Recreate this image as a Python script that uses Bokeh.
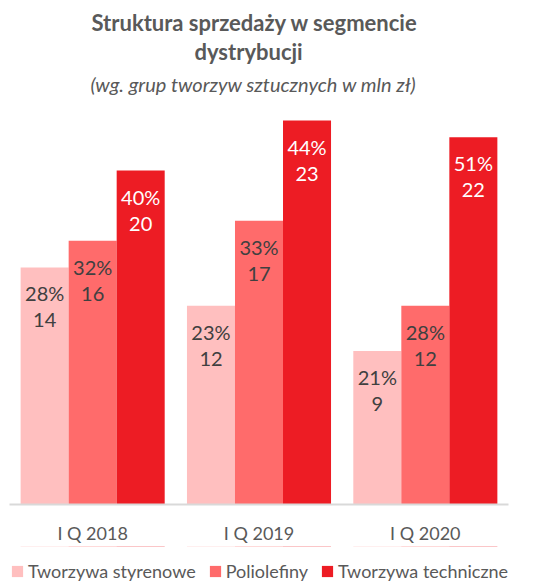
from bokeh.plotting import figure
from bokeh.models import ColumnDataSource, Legend, LegendItem, Title, FactorRange, Range1d
from bokeh.layouts import column
from bokeh.transform import dodge
from bokeh.core.properties import value
from bokeh.embed import file_html
from bokeh.resources import INLINE

categories = ["I Q 2018", "I Q 2019", "I Q 2020"]
series_names = ["Tworzywa styrenowe", "Poliolefiny", "Tworzywa techniczne"]
styrenowe = [14.2, 11.9, 9.2]
poliolefiny = [15.8, 17.0, 11.9]
techniczne = [20.0, 23.0, 22.0]
styrenowe_pct = ["28%", "23%", "21%"]
poliolefiny_pct = ["32%", "33%", "28%"]
techniczne_pct = ["40%", "44%", "51%"]
styrenowe_lbl = ["14", "12", "9"]
poliolefiny_lbl = ["16", "17", "12"]
techniczne_lbl = ["20", "23", "22"]

colors = ["#FFBFBF", "#FF6B6B", "#ED1C24"]
label_colors = ["#404040", "#404040", "#FFFFFF"]
FONT = "Lato"
GREY = "#595959"

src = ColumnDataSource(dict(
    cat=categories,
    s0=styrenowe, s1=poliolefiny, s2=techniczne,
    p0=styrenowe_pct, p1=poliolefiny_pct, p2=techniczne_pct,
    l0=styrenowe_lbl, l1=poliolefiny_lbl, l2=techniczne_lbl,
))

xr = FactorRange(*categories, range_padding=0)

p = figure(
    x_range=xr,
    y_range=Range1d(0, 24.2),
    width=542, height=546,
    output_backend="svg", toolbar_location=None,
    min_border_left=9, min_border_right=34, min_border_top=100, min_border_bottom=40,
    title=None,
)
p.outline_line_color = None
p.xgrid.grid_line_color = None
p.ygrid.grid_line_color = None
p.yaxis.visible = False

bw = 0.2887
offsets = [-bw, 0.0, bw]
for i in range(3):
    p.vbar(x=dodge("cat", offsets[i], range=xr), top="s%d" % i, width=bw,
           source=src, fill_color=colors[i], line_color=None)
    p.text(x=dodge("cat", offsets[i], range=xr), y="s%d" % i, text="p%d" % i,
           source=src, text_font=value(FONT), text_font_size="20px",
           text_color=label_colors[i], text_align="center", text_baseline="middle",
           y_offset=26)
    p.text(x=dodge("cat", offsets[i], range=xr), y="s%d" % i, text="l%d" % i,
           source=src, text_font=value(FONT), text_font_size="20px",
           text_color=label_colors[i], text_align="center", text_baseline="middle",
           y_offset=53)

ax = p.xaxis[0]
ax.axis_line_color = "#D9D9D9"
ax.axis_line_width = 2
ax.major_tick_line_color = None
ax.minor_tick_line_color = None
ax.major_tick_out = 0
ax.major_tick_in = 0
ax.major_label_standoff = 17
ax.major_label_text_font = FONT
ax.major_label_text_font_size = "18px"
ax.major_label_text_color = GREY

for txt, size, style, st, off in [
    ("(wg. grup tworzyw sztucznych w mln zł)", "20px", "italic", 9, 81),
    ("dystrybucji", "22px", "bold", 1, 185),
    ("Struktura sprzedaży w segmencie", "22px", "bold", 0, 82),
]:
    p.add_layout(Title(text=txt, align="left", text_font=FONT, text_font_size=size,
                       text_font_style=style, text_color=GREY, standoff=st, offset=off), "above")

# legend strip below the chart (its bars have zero height, only the legend swatches show)
leg = figure(x_range=xr, y_range=Range1d(-2, -1), width=542, height=37,
             output_backend="svg", toolbar_location=None,
             x_axis_location=None, y_axis_location=None,
             min_border_left=0, min_border_right=0, min_border_top=0, min_border_bottom=0)
leg.outline_line_color = None
leg.grid.visible = False
leg_renderers = [leg.vbar(x=dodge("cat", offsets[i], range=xr), top="s%d" % i,
                          bottom="s%d" % i, width=bw,
                          source=src, fill_color=colors[i], line_color=None)
                 for i in range(3)]
legend = Legend(
    items=[LegendItem(label=series_names[i], renderers=[leg_renderers[i]]) for i in range(3)],
    orientation="horizontal", location=(1, 1), ncols=3,
    glyph_width=14, glyph_height=14, label_standoff=4, spacing=12,
    padding=0, margin=0, border_line_color=None, background_fill_alpha=0,
    label_height=14,
    label_text_font=FONT, label_text_font_size="18px", label_text_color=GREY,
)
leg.add_layout(legend)

layout = column(p, leg, spacing=0)
open("out.html", "w").write(file_html(layout, INLINE))
